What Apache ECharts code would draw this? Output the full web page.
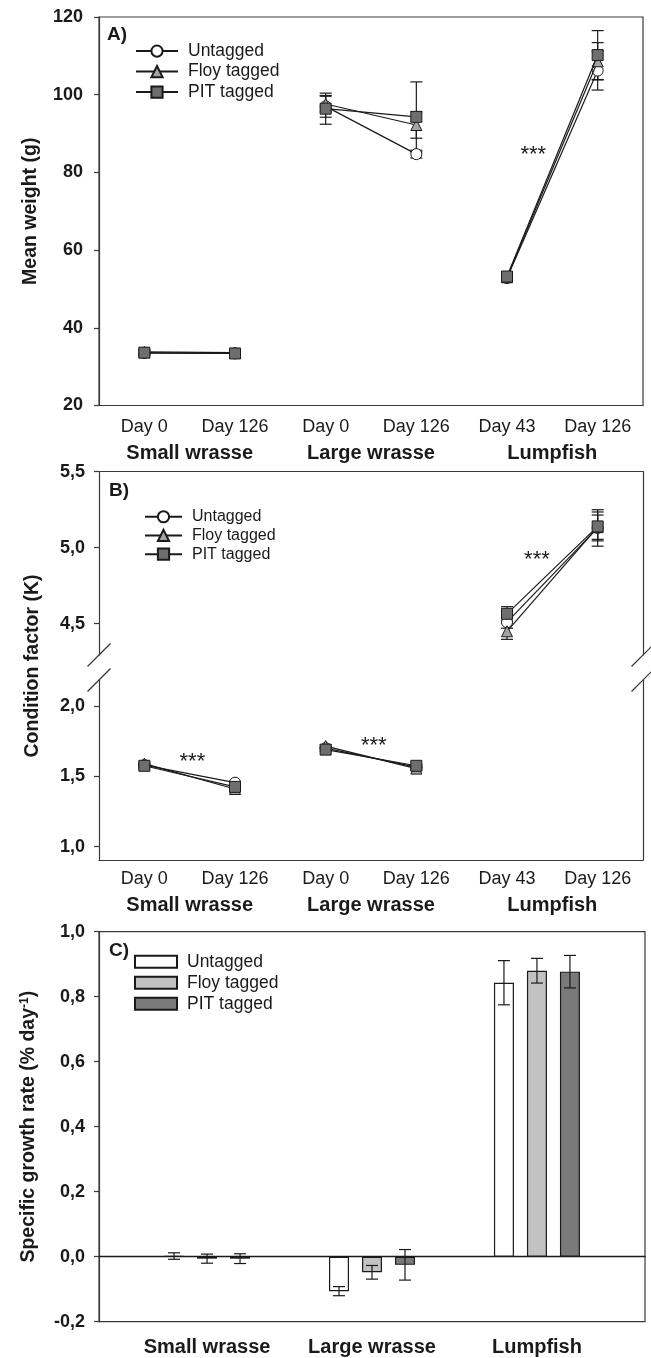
<!DOCTYPE html>
<html>
<head>
<meta charset="utf-8">
<title>Mean weight, condition factor and growth rate</title>
<script src="https://cdn.jsdelivr.net/npm/echarts@6/dist/echarts.min.js"></script>
<style>
  html, body { margin: 0; padding: 0; background: #fff; }
  #chart { width: 651px; height: 1358px; }
</style>
</head>
<body>
<div id="chart"></div>
<script>
// categories
var days = ['Day 0', 'Day 126', 'Day 0', 'Day 126', 'Day 43', 'Day 126'];
var species = ['Small wrasse', 'Large wrasse', 'Lumpfish'];
var tags = ['Untagged', 'Floy tagged', 'PIT tagged'];

// A) mean weight (g), one value per day label
var weightUntagged = [33.5, 33.4, 97.0, 84.7, 52.8, 106.2];
var weightFloy     = [33.8, 33.6, 97.6, 92.2, 53.0, 108.6];
var weightPit      = [33.6, 33.4, 96.4, 94.3, 53.2, 110.2];
var weightUntaggedSe = [0.6, 0.6, 2.8, 1.0, 0.6, 5.0];
var weightFloySe     = [0.6, 0.6, 2.0, 3.4, 0.6, 4.8];
var weightPitSe      = [0.6, 0.6, 4.0, 9.0, 0.6, 6.3];

// B) condition factor (K)
var kUntagged = [1.580, 1.455, 1.700, 1.565, 4.510, 5.130];
var kFloy     = [1.590, 1.410, 1.715, 1.555, 4.450, 5.135];
var kPit      = [1.575, 1.425, 1.690, 1.575, 4.565, 5.140];
var kUntaggedSe = [0.010, 0.010, 0.010, 0.010, 0.040, 0.120];
var kFloySe     = [0.010, 0.010, 0.010, 0.010, 0.053, 0.080];
var kPitSe      = [0.010, 0.010, 0.010, 0.010, 0.047, 0.095];

// C) specific growth rate (% day-1), one value per species
var sgrUntagged = [0.002, -0.106, 0.843];
var sgrFloy     = [-0.006, -0.048, 0.880];
var sgrPit      = [-0.006, -0.025, 0.877];
var sgrUntaggedSe = [0.010, 0.014, 0.068];
var sgrFloySe     = [0.014, 0.021, 0.038];
var sgrPitSe      = [0.015, 0.047, 0.050];

var FONT = '"Liberation Sans", Arial, Helvetica, sans-serif';
var INK = '#1a1a1a';
var FRAME = '#3a3a3a';
var symbols = ['circle', 'triangle', 'rect'];
var fills = ['#ffffff', '#a3a3a3', '#6e6e6e'];
var barFills = ['#ffffff', '#c2c2c2', '#7a7a7a'];
var BAR_W = 20, BAR_STEP = 33;

function comma(v) { return v.toFixed(1).replace('.', ','); }
function stripPrefix(name) { return name.split('|')[1]; }

// vertical error bar with caps, drawn through the library's coords
function errorBars(data, xi, yi, shift, z) {
  return {
    type: 'custom', xAxisIndex: xi, yAxisIndex: yi, silent: true, z: z,
    encode: { x: 0, y: 1 },
    data: data,
    renderItem: function (params, api) {
      var x = api.value(0), m = api.value(1), e = api.value(2);
      var hi = api.coord([x, m + e]), lo = api.coord([x, m - e]);
      var cx = hi[0] + shift, w = 6;
      var st = { stroke: INK, lineWidth: 1.2 };
      return { type: 'group', children: [
        { type: 'line', shape: { x1: cx, y1: hi[1], x2: cx, y2: lo[1] }, style: st },
        { type: 'line', shape: { x1: cx - w, y1: hi[1], x2: cx + w, y2: hi[1] }, style: st },
        { type: 'line', shape: { x1: cx - w, y1: lo[1], x2: cx + w, y2: lo[1] }, style: st }
      ] };
    }
  };
}

var series = [];

function addPointPanel(prefix, means, errs, axesOf, sigs) {
  tags.forEach(function (tag, t) {
    species.forEach(function (sp, g) {
      var ax = axesOf(g);
      var idx = [2 * g, 2 * g + 1];
      series.push(errorBars(idx.map(function (i) { return [i, means[t][i], errs[t][i]]; }), ax[0], ax[1], 0, 2));
    });
  });
  tags.forEach(function (tag, t) {
    species.forEach(function (sp, g) {
      var ax = axesOf(g);
      var idx = [2 * g, 2 * g + 1];
      var s = {
        type: 'line', name: prefix + '|' + tag,
        xAxisIndex: ax[0], yAxisIndex: ax[1],
        data: idx.map(function (i) { return [i, means[t][i]]; }),
        symbol: symbols[t], symbolSize: 11, showAllSymbol: true,
        itemStyle: { color: fills[t], borderColor: INK, borderWidth: 1 },
        lineStyle: { color: INK, width: 1.2 },
        emphasis: { disabled: true },
        z: 3 + t
      };
      var mine = sigs.filter(function (sg) { return sg.group === g; });
      if (t === 2 && mine.length) {
        s.markPoint = {
          symbol: 'circle', symbolSize: 0, silent: true,
          label: { show: true, position: 'inside', formatter: '***', fontFamily: FONT, fontSize: 22, color: INK, offset: [0, 4] },
          data: mine.map(function (sg) { return { coord: sg.coord }; })
        };
      }
      series.push(s);
    });
  });
}

addPointPanel('A', [weightUntagged, weightFloy, weightPit], [weightUntaggedSe, weightFloySe, weightPitSe],
  function () { return [0, 0]; },
  [{ group: 2, coord: [4.29, 85.6] }]);

addPointPanel('B', [kUntagged, kFloy, kPit], [kUntaggedSe, kFloySe, kPitSe],
  function (g) { return g === 2 ? [2, 1] : [3, 3]; },
  [{ group: 0, coord: [0.53, 1.633] }, { group: 1, coord: [2.53, 1.746] }, { group: 2, coord: [4.33, 4.947] }]);

var sgr = [sgrUntagged, sgrFloy, sgrPit];
var sgrSe = [sgrUntaggedSe, sgrFloySe, sgrPitSe];
tags.forEach(function (tag, t) {
  series.push({
    type: 'bar', name: 'C|' + tag, xAxisIndex: 5, yAxisIndex: 5,
    data: sgr[t].map(function (v, g) { return [g + 1, v]; }),
    barWidth: BAR_W, barGap: '65%',
    itemStyle: { color: barFills[t], borderColor: INK, borderWidth: 1.2 },
    emphasis: { disabled: true },
    z: 2
  });
});
tags.forEach(function (tag, t) {
  series.push(errorBars(sgr[t].map(function (v, g) { return [g + 1, v, sgrSe[t][g]]; }), 5, 5, (t - 1) * BAR_STEP, 4));
});

var tickLabel = { fontFamily: FONT, fontSize: 18, fontWeight: 'bold', color: INK };
var dayLabel = { fontFamily: FONT, fontSize: 18, color: INK };
var groupLabel = { fontFamily: FONT, fontSize: 20, fontWeight: 'bold', color: INK };
var frameLine = { show: true, onZero: false, lineStyle: { color: FRAME, width: 1.2 } };
var noLine = { show: false, onZero: false };
var yTick = { show: true, length: 5, lineStyle: { color: FRAME, width: 1.2 } };

function dayAxis(grid, margin) {
  return { type: 'value', gridIndex: grid, position: 'bottom', min: -0.5, max: 5.5,
    axisLine: frameLine, axisTick: { show: false }, splitLine: { show: false },
    axisLabel: Object.assign({ margin: margin, customValues: [0, 1, 2, 3, 4, 5],
      formatter: function (v) { return days[Math.round(v)]; } }, dayLabel) };
}
function speciesAxis(grid, margin) {
  return { type: 'value', gridIndex: grid, position: 'bottom', min: -0.5, max: 5.5,
    axisLine: noLine, axisTick: { show: false }, splitLine: { show: false },
    axisLabel: Object.assign({ margin: margin, customValues: [0.5, 2.5, 4.5],
      formatter: function (v) { return species[Math.round((v - 0.5) / 2)]; } }, groupLabel) };
}

var option = {
  animation: false,
  backgroundColor: '#ffffff',
  textStyle: { fontFamily: FONT },
  grid: [
    { left: 99, top: 17, width: 544, height: 388.5, show: true, borderColor: FRAME, borderWidth: 1.2, outerBoundsMode: 'none' },
    { left: 99, top: 471.7, width: 544, height: 183.3, outerBoundsMode: 'none' },
    { left: 99, top: 680, width: 544, height: 180, outerBoundsMode: 'none' },
    { left: 99, top: 931.7, width: 546, height: 390, show: true, borderColor: FRAME, borderWidth: 1.2, outerBoundsMode: 'none' }
  ],
  xAxis: [
    dayAxis(0, 12.5),
    speciesAxis(0, 37.5),
    { type: 'value', gridIndex: 1, position: 'top', min: -0.5, max: 5.5,
      axisLine: frameLine, axisTick: { show: false }, axisLabel: { show: false }, splitLine: { show: false } },
    dayAxis(2, 10.5),
    speciesAxis(2, 35),
    { type: 'value', gridIndex: 3, position: 'bottom', min: 0.345, max: 3.655,
      axisLine: { show: true, onZero: true, lineStyle: { color: INK, width: 1.4 } },
      axisTick: { show: false }, axisLabel: { show: false }, splitLine: { show: false } },
    { type: 'value', gridIndex: 3, position: 'bottom', min: 0.345, max: 3.655,
      axisLine: noLine, axisTick: { show: false }, splitLine: { show: false },
      axisLabel: Object.assign({ margin: 16, customValues: [1, 2, 3],
        formatter: function (v) { return species[Math.round(v) - 1]; } }, groupLabel) }
  ],
  yAxis: [
    { type: 'value', gridIndex: 0, min: 20, max: 120, interval: 20,
      axisLine: frameLine, axisTick: yTick, splitLine: { show: false },
      axisLabel: Object.assign({ margin: 16 }, tickLabel),
      name: 'Mean weight (g)', nameLocation: 'middle', nameGap: 58,
      nameTextStyle: { fontFamily: FONT, fontSize: 19.5, fontWeight: 'bold', color: INK } },
    { type: 'value', gridIndex: 1, min: 4.294, max: 5.5,
      axisLine: frameLine, splitLine: { show: false },
      axisTick: Object.assign({ customValues: [4.5, 5.0, 5.5] }, yTick),
      axisLabel: Object.assign({ margin: 14, customValues: [4.5, 5.0, 5.5], formatter: comma }, tickLabel) },
    { type: 'value', gridIndex: 1, position: 'right', min: 4.294, max: 5.5,
      axisLine: frameLine, axisTick: { show: false }, axisLabel: { show: false }, splitLine: { show: false } },
    { type: 'value', gridIndex: 2, min: 0.905, max: 2.185,
      axisLine: frameLine, splitLine: { show: false },
      axisTick: Object.assign({ customValues: [1.0, 1.5, 2.0] }, yTick),
      axisLabel: Object.assign({ margin: 14, customValues: [1.0, 1.5, 2.0], formatter: comma }, tickLabel) },
    { type: 'value', gridIndex: 2, position: 'right', min: 0.905, max: 2.185,
      axisLine: frameLine, axisTick: { show: false }, axisLabel: { show: false }, splitLine: { show: false } },
    { type: 'value', gridIndex: 3, min: -0.2, max: 1.0, interval: 0.2,
      axisLine: frameLine, axisTick: yTick, splitLine: { show: false },
      axisLabel: Object.assign({ margin: 14, formatter: comma }, tickLabel),
      name: 'Specific growth rate (% day{sup|-1})', nameLocation: 'middle', nameGap: 60,
      nameTextStyle: { fontFamily: FONT, fontSize: 19.5, fontWeight: 'bold', color: INK,
        rich: { sup: { fontFamily: FONT, fontSize: 12, fontWeight: 'bold', color: INK, verticalAlign: 'top' } } } }
  ],
  legend: [
    { data: tags.map(function (t) { return 'A|' + t; }), formatter: stripPrefix, orient: 'vertical',
      left: 135, top: 40.8, padding: 0, itemGap: 0, itemWidth: 42, itemHeight: 14, selectedMode: false,
      textStyle: { fontFamily: FONT, fontSize: 17.5, color: INK, lineHeight: 20.5, padding: [0, 0, 0, 5] } },
    { data: tags.map(function (t) { return 'B|' + t; }), formatter: stripPrefix, orient: 'vertical',
      left: 144, top: 507.4, padding: 0, itemGap: 0, itemWidth: 37, itemHeight: 14, selectedMode: false,
      textStyle: { fontFamily: FONT, fontSize: 16, color: INK, lineHeight: 18.7, padding: [0, 0, 0, 5] } },
    { data: tags.map(function (t) { return 'C|' + t; }), formatter: stripPrefix, orient: 'vertical',
      left: 134, top: 951.2, padding: 0, itemGap: 0, itemWidth: 42, itemHeight: 12, icon: 'rect', selectedMode: false,
      textStyle: { fontFamily: FONT, fontSize: 17.5, color: INK, lineHeight: 21, padding: [0, 0, 0, 5] } }
  ],
  graphic: [
    { type: 'text', x: 107, y: 34.5, style: { text: 'A)', fontFamily: FONT, fontSize: 19, fontWeight: 'bold', fill: INK, textAlign: 'left', textVerticalAlign: 'middle' } },
    { type: 'text', x: 109, y: 491, style: { text: 'B)', fontFamily: FONT, fontSize: 19, fontWeight: 'bold', fill: INK, textAlign: 'left', textVerticalAlign: 'middle' } },
    { type: 'text', x: 109, y: 950.5, style: { text: 'C)', fontFamily: FONT, fontSize: 19, fontWeight: 'bold', fill: INK, textAlign: 'left', textVerticalAlign: 'middle' } },
    { type: 'text', x: 33, y: 666, rotation: Math.PI / 2,
      style: { text: 'Condition factor (K)', fontFamily: FONT, fontSize: 19.5, fontWeight: 'bold', fill: INK, textAlign: 'center', textVerticalAlign: 'middle' } },
    // axis break marks on panel B
    { type: 'line', shape: { x1: 87.5, y1: 666.5, x2: 110.5, y2: 643.5 }, style: { stroke: FRAME, lineWidth: 1.2 } },
    { type: 'line', shape: { x1: 87.5, y1: 691.5, x2: 110.5, y2: 668.5 }, style: { stroke: FRAME, lineWidth: 1.2 } },
    { type: 'line', shape: { x1: 631.5, y1: 666.5, x2: 654.5, y2: 643.5 }, style: { stroke: FRAME, lineWidth: 1.2 } },
    { type: 'line', shape: { x1: 631.5, y1: 691.5, x2: 654.5, y2: 668.5 }, style: { stroke: FRAME, lineWidth: 1.2 } }
  ],
  series: series
};

var chart = echarts.init(document.getElementById('chart'), null, { renderer: 'canvas' });
chart.setOption(option);
</script>
</body>
</html>
